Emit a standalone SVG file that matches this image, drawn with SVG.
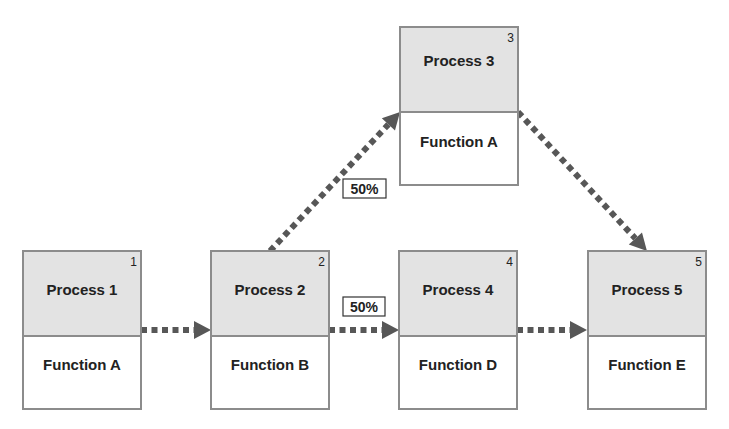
<svg xmlns="http://www.w3.org/2000/svg" width="729" height="429" viewBox="0 0 729 429">
  <style>
    .hdr { fill: #e3e3e3; stroke: #8c8c8c; stroke-width: 2; }
    .body { fill: #ffffff; stroke: #8c8c8c; stroke-width: 2; }
    .title { font-family: "Liberation Sans", Arial, sans-serif; font-size: 15px; font-weight: bold; fill: #222; text-anchor: middle; }
    .num { font-family: "Liberation Sans", Arial, sans-serif; font-size: 12px; fill: #222; text-anchor: end; }
    .flow { fill: none; stroke: #575757; stroke-width: 6; stroke-dasharray: 6 4.5; marker-end: url(#head); }
    .tag { fill: #ffffff; stroke: #333; stroke-width: 1.2; }
    .tagtxt { font-family: "Liberation Sans", Arial, sans-serif; font-size: 14px; font-weight: bold; fill: #222; text-anchor: middle; }
  </style>
  <defs>
    <marker id="head" markerUnits="userSpaceOnUse" markerWidth="18" markerHeight="20" refX="0" refY="9" orient="auto" overflow="visible">
      <path d="M0,0 L17,9 L0,18 Z" fill="#575757"/>
    </marker>
  </defs>

  <!-- connectors -->
  <g id="connectors">
    <line class="flow" x1="141" y1="330" x2="194" y2="330"/>
    <line class="flow" x1="329" y1="330" x2="382" y2="330"/>
    <line class="flow" x1="517" y1="330" x2="570" y2="330"/>
    <line class="flow" x1="270" y1="251" x2="388.4" y2="124.4"/>
    <line class="flow" x1="518" y1="112" x2="635.4" y2="238.5"/>
    <g id="label-upper">
      <rect class="tag" x="343" y="179" width="43" height="19"/>
      <text class="tagtxt" x="364.5" y="194">50%</text>
    </g>
    <g id="label-lower">
      <rect class="tag" x="343" y="297" width="42" height="19"/>
      <text class="tagtxt" x="364" y="312">50%</text>
    </g>
  </g>

  <g id="process1">
    <rect class="hdr" x="23" y="251" width="118" height="85"/>
    <rect class="body" x="23" y="336" width="118" height="73"/>
    <text class="num" x="137" y="266">1</text>
    <text class="title" x="82" y="295">Process 1</text>
    <text class="title" x="82" y="370">Function A</text>
  </g>

  <g id="process2">
    <rect class="hdr" x="211" y="251" width="118" height="85"/>
    <rect class="body" x="211" y="336" width="118" height="73"/>
    <text class="num" x="325" y="266">2</text>
    <text class="title" x="270" y="295">Process 2</text>
    <text class="title" x="270" y="370">Function B</text>
  </g>

  <g id="process3">
    <rect class="hdr" x="400" y="27" width="118" height="85"/>
    <rect class="body" x="400" y="112" width="118" height="73"/>
    <text class="num" x="514" y="42">3</text>
    <text class="title" x="459" y="66">Process 3</text>
    <text class="title" x="459" y="147">Function A</text>
  </g>

  <g id="process4">
    <rect class="hdr" x="399" y="251" width="118" height="85"/>
    <rect class="body" x="399" y="336" width="118" height="73"/>
    <text class="num" x="513" y="266">4</text>
    <text class="title" x="458" y="295">Process 4</text>
    <text class="title" x="458" y="370">Function D</text>
  </g>

  <g id="process5">
    <rect class="hdr" x="588" y="251" width="118" height="85"/>
    <rect class="body" x="588" y="336" width="118" height="73"/>
    <text class="num" x="702" y="266">5</text>
    <text class="title" x="647" y="295">Process 5</text>
    <text class="title" x="647" y="370">Function E</text>
  </g>
</svg>
